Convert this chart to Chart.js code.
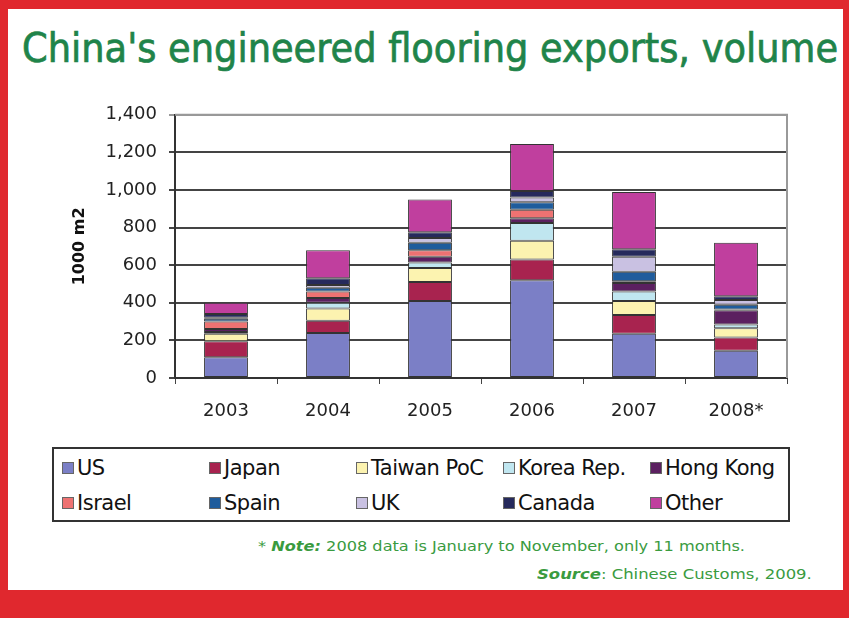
<!DOCTYPE html>
<html>
<head>
<meta charset="utf-8">
<script src="https://cdn.jsdelivr.net/npm/chart.js@4"></script>
<style>
  html, body { margin: 0; padding: 0; }
  body { width: 849px; height: 618px; background: #e0282e; position: relative; overflow: hidden; }
  #sheet { position: absolute; left: 8px; top: 9px; width: 835px; height: 581px; background: #fff; }
  .fit { position: absolute; white-space: nowrap; transform-origin: 0 0; }
  #title { top: 28px; font: 41px/41px "DejaVu Sans Condensed", "DejaVu Sans", sans-serif; color: #1f844a; -webkit-text-stroke: 0.7px #1f844a; }
  #plot { position: absolute; left: 60px; top: 92px; width: 740px; height: 333px; }
  #legend {
    position: absolute; left: 52px; top: 447px; width: 738px; height: 75px;
    box-sizing: border-box; border: 2px solid #333;
    display: grid; grid-template-columns: repeat(5, 147px); grid-auto-rows: 35px;
    padding: 1px 0 0 8px;
  }
  .item { display: flex; align-items: center; font: 21px "DejaVu Sans", sans-serif; color: #111; letter-spacing: -0.5px; }
  .sw { width: 10px; height: 10px; border: 1px solid #666; margin-right: 3px; flex: none; }
  .note { font: 14px "DejaVu Sans", sans-serif; color: #3a9b3f; }
  .note b { font-style: italic; }
  #note { top: 538px; }
  #source { top: 566px; }
</style>
</head>
<body>
<div id="sheet"></div>
<div id="title" class="fit">China's engineered flooring exports, volume</div>
<div id="plot"><canvas id="chart"></canvas></div>
<div id="legend"></div>
<div id="note" class="fit note">* <b>Note:</b> 2008 data is January to November, only 11 months.</div>
<div id="source" class="fit note"><b>Source</b>: Chinese Customs, 2009.</div>

<script>
  // données (1000 m2)
  const years = ['2003', '2004', '2005', '2006', '2007', '2008*'];
  const us       = [110, 240, 410, 520, 235, 145];
  const japan    = [85, 65, 100, 110, 100, 70];
  const taiwan   = [40, 65, 75, 100, 75, 50];
  const korea    = [10, 30, 30, 95, 50, 20];
  const hongKong = [15, 25, 30, 25, 45, 75];
  const israel   = [40, 35, 35, 45, 10, 5];
  const spain    = [15, 20, 40, 40, 50, 25];
  const uk       = [5, 15, 25, 25, 80, 25];
  const canada   = [20, 35, 30, 35, 40, 20];
  const other    = [60, 150, 175, 250, 305, 285];
  const yTicks   = [0, 200, 400, 600, 800, 1000, 1200, 1400];

  const series = [
    { label: 'US', data: us, color: '#7b7fc6' },
    { label: 'Japan', data: japan, color: '#a8234f' },
    { label: 'Taiwan PoC', data: taiwan, color: '#fcf3b0' },
    { label: 'Korea Rep.', data: korea, color: '#c0e6f0' },
    { label: 'Hong Kong', data: hongKong, color: '#5b2060' },
    { label: 'Israel', data: israel, color: '#ee7272' },
    { label: 'Spain', data: spain, color: '#1f5c9c' },
    { label: 'UK', data: uk, color: '#c9c1e2' },
    { label: 'Canada', data: canada, color: '#262a5c' },
    { label: 'Other', data: other, color: '#c03f9e' }
  ];

  // =========================
  // Légende HTML
  // =========================
  const legendEl = document.getElementById('legend');
  series.forEach(s => {
    const item = document.createElement('div');
    item.className = 'item';
    item.innerHTML = '<span class="sw" style="background:' + s.color + '"></span>' + s.label;
    legendEl.appendChild(item);
  });

  // ajuste la largeur des textes
  function fitWidth(id, left, width) {
    const el = document.getElementById(id);
    el.style.left = left + 'px';
    el.style.transform = 'scaleX(' + (width / el.offsetWidth) + ')';
  }
  fitWidth('title', 22, 816);
  fitWidth('note', 258, 487);
  fitWidth('source', 537, 275);

  // cadre gris en haut et à droite
  const frame = {
    id: 'frame',
    beforeDatasetsDraw(chart) {
      const { ctx, chartArea: a } = chart;
      ctx.save();
      ctx.strokeStyle = '#999';
      ctx.lineWidth = 2;
      ctx.beginPath();
      ctx.moveTo(a.left, a.top);
      ctx.lineTo(a.right, a.top);
      ctx.lineTo(a.right, a.bottom);
      ctx.stroke();
      ctx.restore();
    }
  };

  new Chart(document.getElementById('chart'), {
    type: 'bar',
    data: {
      labels: years,
      datasets: series.map(s => ({
        label: s.label,
        data: s.data,
        backgroundColor: s.color,
        borderColor: '#333',
        borderWidth: 1,
        borderSkipped: false,
        barPercentage: 0.43,
        categoryPercentage: 1
      }))
    },
    options: {
      responsive: true,
      maintainAspectRatio: false,
      animation: false,
      layout: { padding: { top: 13, right: 13 } },
      plugins: {
        legend: { display: false },
        tooltip: { enabled: false }
      },
      scales: {
        x: {
          stacked: true,
          grid: { drawOnChartArea: false, color: '#444', tickLength: 6, lineWidth: 1 },
          border: { color: '#333', width: 2 },
          ticks: { color: '#222', padding: 17, font: { family: 'DejaVu Sans', size: 18 } },
          afterFit(scale) { scale.height = 47; }
        },
        y: {
          stacked: true,
          min: 0,
          max: 1400,
          afterBuildTicks(scale) { scale.ticks = yTicks.map(v => ({ value: v })); },
          grid: {
            color: ctx => ctx.tick && ctx.tick.value === 1400 ? '#999' : '#444',
            lineWidth: 2,
            tickLength: 6
          },
          border: { color: '#333', width: 2 },
          ticks: {
            color: '#222',
            padding: 12,
            font: { family: 'DejaVu Sans', size: 18 },
            callback: v => v.toLocaleString('en-US')
          },
          title: {
            display: true,
            text: '1000 m2',
            color: '#111',
            padding: { top: 10, bottom: 0 },
            font: { family: 'DejaVu Sans', size: 16, weight: 'bold' }
          },
          afterFit(scale) { scale.width = 115; }
        }
      }
    },
    plugins: [frame]
  });
</script>
</body>
</html>
